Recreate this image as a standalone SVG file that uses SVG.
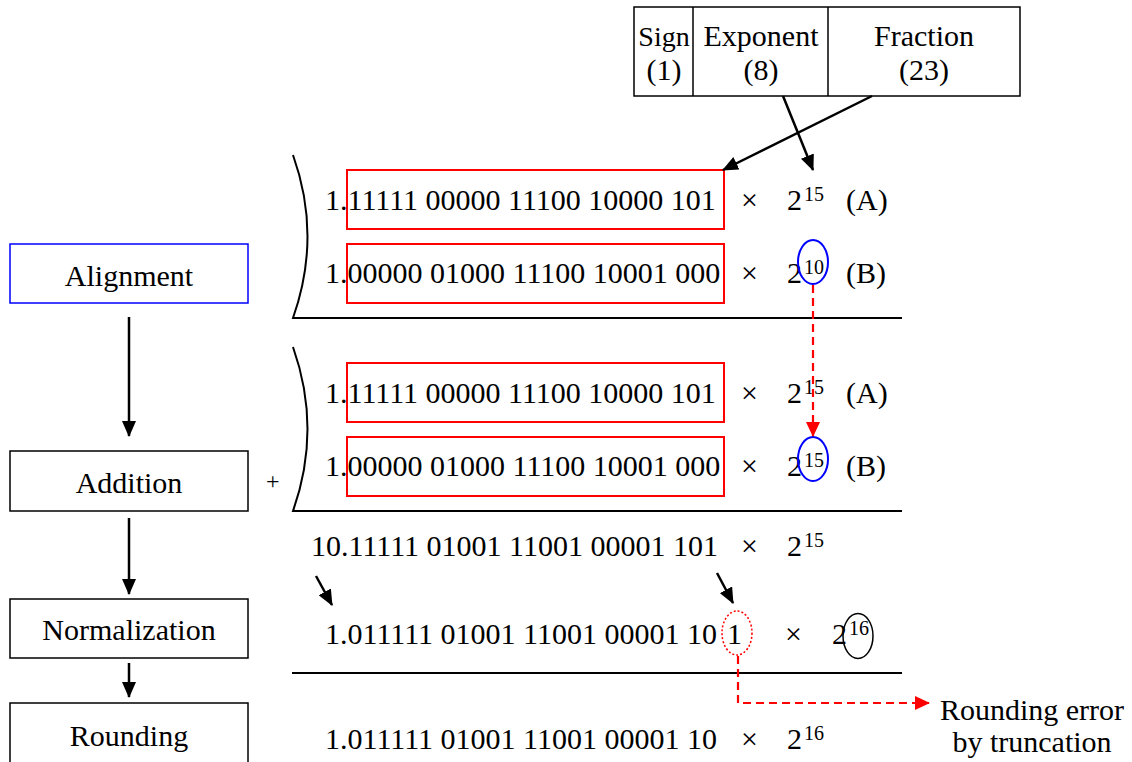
<svg xmlns="http://www.w3.org/2000/svg" width="1132" height="762" viewBox="0 0 1132 762" font-family="'Liberation Serif', 'DejaVu Serif', serif">
<style>
text{font-family:'Liberation Serif','DejaVu Serif',serif;fill:#000}
.t{font-size:30px}
.lbl{font-size:30px;text-anchor:middle}
.sup{font-size:20px}
.plus{font-size:24px}
.box{fill:#fff;stroke:#000;stroke-width:1.5}
.rbox{fill:none;stroke:#f00;stroke-width:2}
.ln{fill:none;stroke:#000;stroke-width:2}
.arr{fill:none;stroke:#000;stroke-width:2.5;marker-end:url(#ah)}
.red{fill:none;stroke:#f00;stroke-width:2.2;stroke-dasharray:8 5}
</style>
<defs>
<marker id="ah" markerUnits="userSpaceOnUse" markerWidth="16" markerHeight="14" refX="15" refY="7" orient="auto">
<path d="M0,0 L16,7 L0,14 Z" fill="#000"/>
</marker>
<marker id="rah" markerUnits="userSpaceOnUse" markerWidth="15" markerHeight="14" refX="14" refY="7" orient="auto">
<path d="M0,0 L15,7 L0,14 Z" fill="#f00"/>
</marker>
</defs>

<g id="format">
<rect class="box" x="634" y="7" width="386" height="89"/>
<line x1="693" y1="7" x2="693" y2="96" stroke="#000" stroke-width="1.5"/>
<line x1="828" y1="7" x2="828" y2="96" stroke="#000" stroke-width="1.5"/>
<text class="lbl" x="664" y="46" font-size="28" style="font-size:28px">Sign</text>
<text class="lbl" x="664" y="80">(1)</text>
<text class="lbl" x="761" y="46">Exponent</text>
<text class="lbl" x="761" y="80">(8)</text>
<text class="lbl" x="924" y="46">Fraction</text>
<text class="lbl" x="924" y="80">(23)</text>
</g>

<g id="alignment">
<rect x="10" y="244" width="238" height="59" fill="#fff" stroke="#00f" stroke-width="1.5"/>
<text class="lbl" x="129" y="286">Alignment</text>
</g>
<g id="addition">
<rect class="box" x="10" y="451" width="238" height="60"/>
<text class="lbl" x="129" y="493">Addition</text>
</g>
<g id="normalization">
<rect class="box" x="10" y="599" width="238" height="59"/>
<text class="lbl" x="129" y="640">Normalization</text>
</g>
<g id="rounding">
<rect class="box" x="10" y="703" width="238" height="62"/>
<text class="lbl" x="129" y="746">Rounding</text>
</g>

<g id="alignment-rows">
<path class="ln" d="M293,155 Q322,236 293,318 L902,318"/>
<rect class="rbox" x="347" y="170" width="377" height="59"/>
<rect class="rbox" x="347" y="244" width="377" height="59"/>
<text class="t" x="325" y="210">1.11111 00000 11100 10000 101</text>
<text class="t" x="741" y="210">×</text>
<text class="t" x="787" y="210">2</text>
<text class="sup" x="804" y="201">15</text>
<text class="t" x="846" y="210">(A)</text>
<text class="t" x="325" y="283">1.00000 01000 11100 10001 000</text>
<text class="t" x="741" y="283">×</text>
<text class="t" x="787" y="283">2</text>
<text class="sup" x="804" y="274">10</text>
<text class="t" x="846" y="283">(B)</text>
<ellipse cx="813" cy="262" rx="15" ry="22" fill="none" stroke="#00f" stroke-width="2"/>
</g>

<g id="addition-rows">
<path class="ln" d="M293,347 Q322,429 293,511 L902,511"/>
<rect class="rbox" x="347" y="363" width="377" height="59"/>
<rect class="rbox" x="347" y="437" width="377" height="59"/>
<text class="t" x="325" y="403">1.11111 00000 11100 10000 101</text>
<text class="t" x="741" y="403">×</text>
<text class="t" x="787" y="403">2</text>
<text class="sup" x="804" y="394">15</text>
<text class="t" x="846" y="403">(A)</text>
<text class="t" x="325" y="476">1.00000 01000 11100 10001 000</text>
<text class="t" x="741" y="476">×</text>
<text class="t" x="787" y="476">2</text>
<text class="sup" x="804" y="467">15</text>
<text class="t" x="846" y="476">(B)</text>
<ellipse cx="813" cy="459" rx="15" ry="22" fill="none" stroke="#00f" stroke-width="2"/>
<text class="plus" x="266" y="489">+</text>
</g>

<g id="sum-rows">
<text class="t" x="311" y="556">10.11111 01001 11001 00001 101</text>
<text class="t" x="741" y="556">×</text>
<text class="t" x="787" y="556">2</text>
<text class="sup" x="804" y="547">15</text>
<text class="t" x="325" y="644">1.011111 01001 11001 00001 10</text>
<text class="t" x="727" y="644">1</text>
<ellipse cx="737" cy="633" rx="15" ry="22" fill="none" stroke="#f00" stroke-width="1.5" stroke-dasharray="2 2"/>
<text class="t" x="785" y="644">×</text>
<text class="t" x="832" y="644">2</text>
<text class="sup" x="849" y="635">16</text>
<ellipse cx="858" cy="636" rx="15" ry="22.5" fill="none" stroke="#000" stroke-width="1.5"/>
<line class="ln" x1="292" y1="673" x2="902" y2="673"/>
<text class="t" x="325" y="749">1.011111 01001 11001 00001 10</text>
<text class="t" x="741" y="749">×</text>
<text class="t" x="787" y="749">2</text>
<text class="sup" x="804" y="740">16</text>
</g>

<g id="note">
<text class="lbl" x="1032" y="720">Rounding error</text>
<text class="lbl" x="1032" y="752">by truncation</text>
</g>

<g id="connectors">
<line class="arr" x1="872" y1="96" x2="723" y2="170"/>
<line class="arr" x1="783" y1="96" x2="813" y2="170"/>
<line class="arr" x1="129" y1="317" x2="129" y2="436"/>
<line class="arr" x1="129" y1="518" x2="129" y2="594"/>
<line class="arr" x1="129" y1="663" x2="129" y2="697"/>
<line class="arr" x1="316" y1="576" x2="332" y2="605"/>
<line class="arr" x1="717" y1="573" x2="733" y2="603"/>
<line class="red" x1="813" y1="285" x2="813" y2="436" marker-end="url(#rah)"/>
<polyline class="red" points="738,656 738,703 929,703" marker-end="url(#rah)"/>
</g>
</svg>
